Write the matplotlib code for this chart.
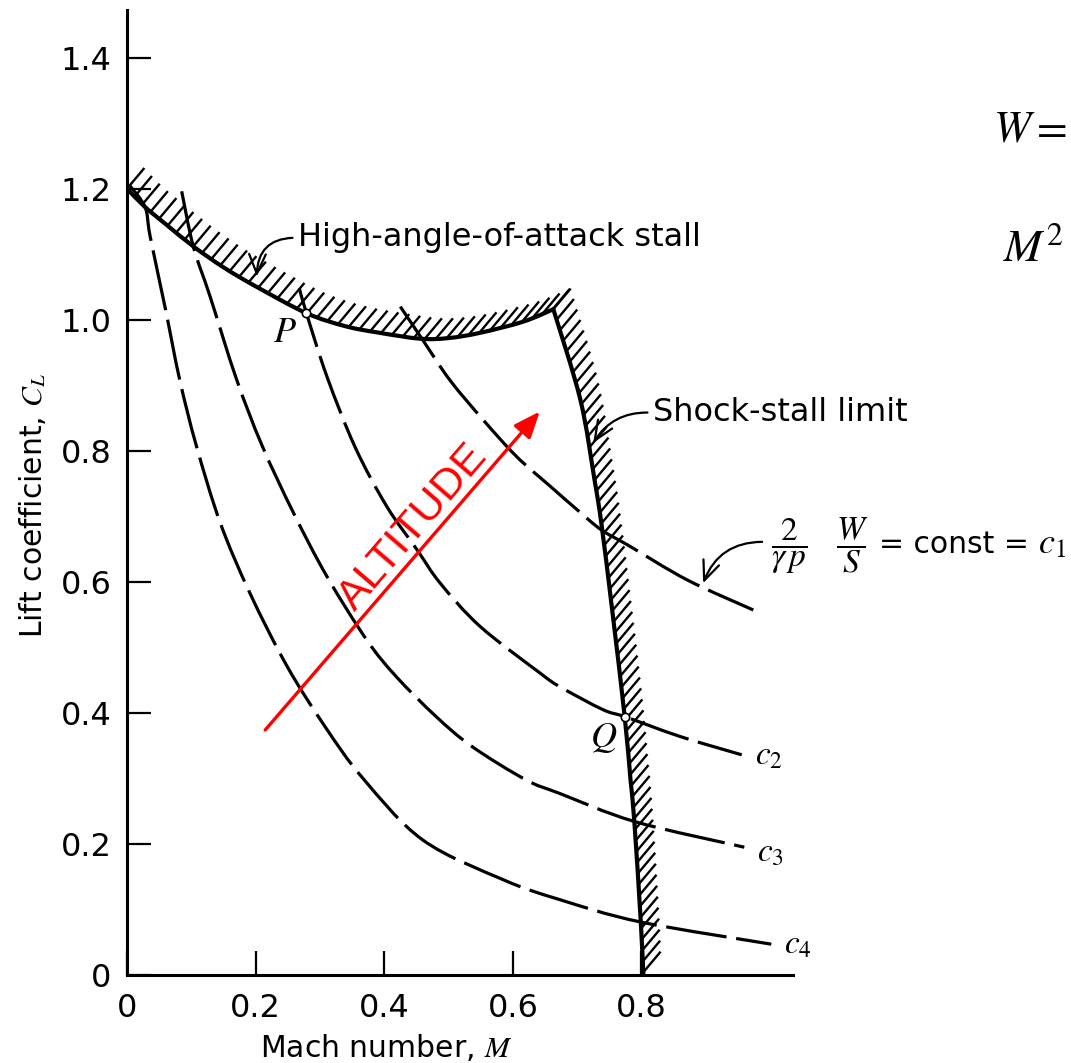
import numpy as np
import matplotlib
matplotlib.use("Agg")
from matplotlib import pyplot as plt
from matplotlib.collections import LineCollection
from matplotlib.path import Path
from matplotlib.patches import PathPatch

# envelope boundary (Mach number, lift coefficient)
stall_m = [0.0, 0.028, 0.06, 0.103, 0.15, 0.20, 0.279, 0.34, 0.393, 0.456, 0.50, 0.549, 0.616, 0.663]
stall_cl = [1.200, 1.172, 1.146, 1.112, 1.080, 1.051, 1.010, 0.990, 0.980, 0.971, 0.972, 0.980, 0.997, 1.016]
shock_m = [0.663, 0.705, 0.727, 0.738, 0.755, 0.774, 0.783, 0.789, 0.799, 0.803]
shock_cl = [1.016, 0.878, 0.756, 0.687, 0.553, 0.394, 0.298, 0.234, 0.081, 0.0]

# curves of constant M^2 C_L
c1_m = [0.425, 0.460, 0.502, 0.554, 0.606, 0.658, 0.700, 0.738, 0.779, 0.871, 0.974]
c1_cl = [1.020, 0.969, 0.908, 0.847, 0.791, 0.746, 0.710, 0.679, 0.656, 0.603, 0.557]
c2_m = [0.268, 0.279, 0.311, 0.355, 0.404, 0.451, 0.487, 0.549, 0.642, 0.673, 0.740, 0.775, 0.860, 0.956]
c2_cl = [1.048, 1.010, 0.913, 0.805, 0.715, 0.649, 0.598, 0.532, 0.461, 0.440, 0.405, 0.394, 0.364, 0.336]
c3_m = [0.085, 0.103, 0.129, 0.170, 0.210, 0.259, 0.311, 0.373, 0.419, 0.480, 0.536, 0.620, 0.673, 0.790, 0.960]
c3_cl = [1.196, 1.112, 1.036, 0.910, 0.808, 0.705, 0.608, 0.511, 0.455, 0.395, 0.349, 0.298, 0.277, 0.234, 0.195]
c4_m = [0.004, 0.028, 0.036, 0.060, 0.082, 0.108, 0.145, 0.191, 0.249, 0.308, 0.367, 0.460, 0.586, 0.673, 0.798, 1.002]
c4_cl = [1.205, 1.172, 1.127, 1.015, 0.908, 0.807, 0.690, 0.583, 0.471, 0.379, 0.300, 0.206, 0.145, 0.115, 0.081, 0.047]

point_p = (0.279, 1.010)
point_q = (0.775, 0.394)
altitude_from = (0.215, 0.374)
altitude_to = (0.642, 0.860)

x_ticks = [0, 0.2, 0.4, 0.6, 0.8]
x_labels = ["0", "0.2", "0.4", "0.6", "0.8"]
y_ticks = [0, 0.2, 0.4, 0.6, 0.8, 1.0, 1.2, 1.4]
y_labels = ["0", "0.2", "0.4", "0.6", "0.8", "1.0", "1.2", "1.4"]

plt.rcParams["mathtext.fontset"] = "stix"
plt.rcParams["lines.scale_dashes"] = False
plt.rcParams["font.family"] = ["DejaVu Sans"]

fig = plt.figure(figsize=(10.71, 10.63), dpi=100)
ax = fig.add_axes([0.1186, 0.0828, 0.622, 0.908])
ax.set_xlim(0, 1.036)
ax.set_ylim(0, 1.473)
for s in ["top", "right"]:
    ax.spines[s].set_visible(False)
for s in ["left", "bottom"]:
    ax.spines[s].set_linewidth(2.2)
ax.set_xticks(x_ticks)
ax.set_xticklabels(x_labels)
ax.set_yticks(y_ticks)
ax.set_yticklabels(y_labels)
ax.tick_params(direction="in", length=17, width=1.6, labelsize=23)
ax.tick_params(axis="x", pad=13)
ax.tick_params(axis="y", pad=11)


def smooth_path(xs, ys):
    # Catmull-Rom through the read points, drawn as cubic Bezier pieces
    p = np.column_stack([xs, ys])
    n = len(p)
    verts = [p[0]]
    codes = [Path.MOVETO]
    for i in range(n - 1):
        p0 = p[i - 1] if i > 0 else p[i]
        p3 = p[i + 2] if i + 2 < n else p[i + 1]
        verts += [p[i] + (p[i + 1] - p0) / 6, p[i + 1] - (p3 - p[i]) / 6, p[i + 1]]
        codes += [Path.CURVE4] * 3
    return Path(verts, codes)


def hatch_along(path, spacing=11.0, length=27.0, angle=50.0):
    # short "/" strokes along a curve, placed in pixel space
    pts = path.transformed(ax.transData).to_polygons(closed_only=False)[0]
    d = np.concatenate([[0], np.cumsum(np.hypot(*np.diff(pts, axis=0).T))])
    s = np.arange(0, d[-1] + 0.1, spacing)
    px = np.interp(s, d, pts[:, 0])
    py = np.interp(s, d, pts[:, 1])
    a = np.radians(angle)
    inv = ax.transData.inverted()
    a0 = inv.transform(np.column_stack([px, py]))
    a1 = inv.transform(np.column_stack([px + length * np.cos(a), py + length * np.sin(a)]))
    ax.add_collection(LineCollection([[u, v] for u, v in zip(a0, a1)], colors="black",
                                     linewidths=1.7, clip_on=False))


# boundary lines with hatching on the forbidden side
stall_path = smooth_path(stall_m, stall_cl)
shock_path = smooth_path(shock_m, shock_cl)
for pth in (stall_path, shock_path):
    ax.add_patch(PathPatch(pth, fill=False, edgecolor="black", lw=3, capstyle="round"))
    hatch_along(pth)

# dashed constant curves
for xm, yc in [(c1_m, c1_cl), (c2_m, c2_cl), (c3_m, c3_cl), (c4_m, c4_cl)]:
    ax.add_patch(PathPatch(smooth_path(xm, yc), fill=False, edgecolor="black", lw=2.3,
                           linestyle=(0, (44, 7)), capstyle="butt"))

ax.plot(*point_p, marker="o", ms=6, mfc="white", mec="black", mew=1.2)
ax.plot(*point_q, marker="o", ms=6, mfc="white", mec="black", mew=1.2)

ax.text(0.2276, 0.9653, "$P$", fontsize=26)
ax.text(0.720, 0.3486, "$Q$", fontsize=26)
ax.text(0.977, 0.3206, "$c_2$", fontsize=24)
ax.text(0.979, 0.173, "$c_3$", fontsize=24)
ax.text(1.022, 0.033, "$c_4$", fontsize=24)

arrow_kw = dict(arrowstyle="->,head_length=0.7,head_width=0.3", color="black", lw=1.6,
                shrinkA=2, shrinkB=0, mutation_scale=20)
ax.annotate("High-angle-of-attack stall", xy=(0.2017, 1.066), xytext=(0.266, 1.125),
            fontsize=23, ha="left", va="center",
            arrowprops=dict(connectionstyle="arc3,rad=0.5", relpos=(0, 0.5), **arrow_kw))
ax.annotate("Shock-stall limit", xy=(0.725, 0.812), xytext=(0.818, 0.858),
            fontsize=23, ha="left", va="center",
            arrowprops=dict(connectionstyle="arc3,rad=0.3", relpos=(0, 0.5), **arrow_kw))

# label of c1: fractions, "= const =", c1
ax.annotate("", xy=(0.896, 0.598), xytext=(0.992, 0.661), annotation_clip=False,
            arrowprops=dict(connectionstyle="arc3,rad=0.35", **arrow_kw))
ax.text(1.001, 0.644, r"$\dfrac{2}{\gamma\,p}$", fontsize=24,
        ha="left", va="baseline", clip_on=False)
ax.text(1.1026, 0.644, r"$\dfrac{W}{S}$", fontsize=24,
        ha="left", va="baseline", clip_on=False)
ax.text(1.1695, 0.644, "= const =", fontsize=21.5, ha="left", va="baseline", clip_on=False)
ax.text(1.4168, 0.644, "$c_1$", fontsize=26, ha="left", va="baseline", clip_on=False)

# altitude arrow
ax.annotate("", xy=altitude_to, xytext=altitude_from,
            arrowprops=dict(arrowstyle="-|>,head_length=1.6,head_width=0.65", color="red",
                            lw=2.4, shrinkA=0, shrinkB=0, mutation_scale=10))
p0 = ax.transData.transform(altitude_from)
p1 = ax.transData.transform(altitude_to)
ang = np.degrees(np.arctan2(p1[1] - p0[1], p1[0] - p0[0]))
ax.text(0.445, 0.684, "ALTITUDE", color="red", fontsize=31, family="Liberation Sans",
        rotation=ang, rotation_mode="anchor", ha="center", va="center")

# axis titles and the formulas at the right edge
fig.text(0.030, 0.525, "Lift coefficient, $C_L$", rotation=90, fontsize=21.5,
         ha="center", va="center")
fig.text(0.3604, 0.006, "Mach number, $M$", fontsize=21.5, ha="center", va="baseline")
fig.text(0.927, 0.8667, r"$W =$", fontsize=32, ha="left", va="baseline")
fig.text(0.9365, 0.7538, r"$M^2$", fontsize=33, ha="left", va="baseline")

fig.savefig("out.png", dpi=100)
